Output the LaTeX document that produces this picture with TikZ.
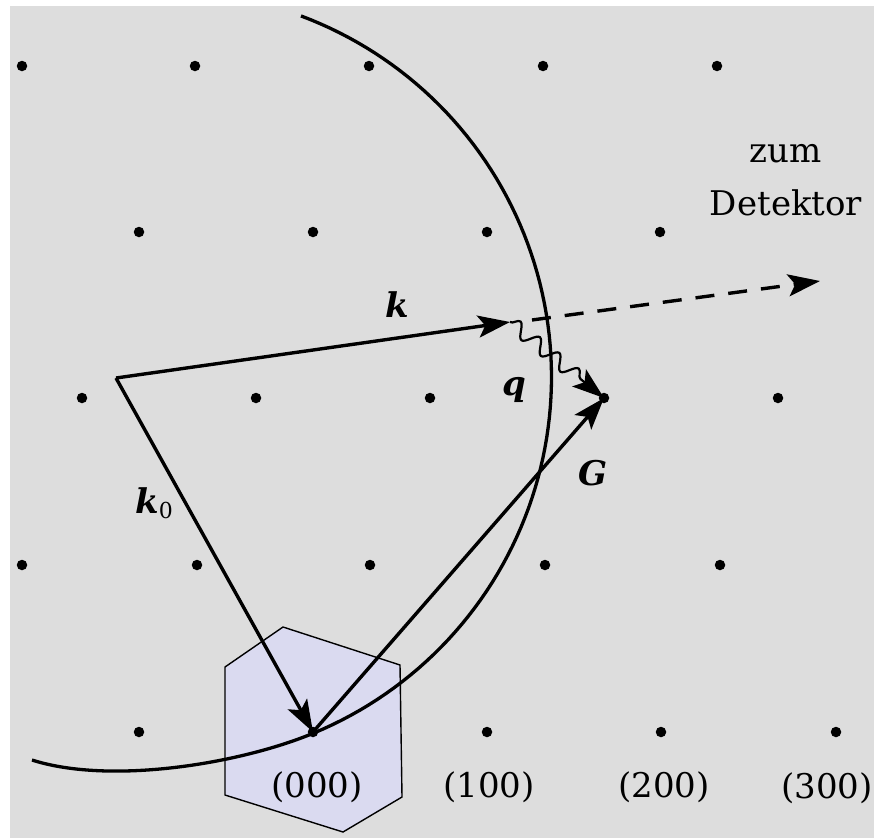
\documentclass[tikz,border=0pt]{standalone}
\usepackage{fontspec}
\setmainfont{DejaVu Serif}
\usetikzlibrary{arrows.meta,decorations.pathmorphing}
\definecolor{bggray}{RGB}{221,221,221}
\definecolor{hexfill}{RGB}{218,218,240}
\begin{document}
\begin{tikzpicture}[x=1pt,y=-1pt,
  tip/.style={-{Stealth[length=32pt,width=22pt,inset=7pt]}},
  vec/.style={line width=3.4pt,tip},
  lattdot/.style={circle,fill=black,inner sep=0pt,minimum size=10.5pt},
  lbl/.style={font=\fontsize{34}{40}\selectfont,inner sep=0pt},
  wave/.style={line width=2.2pt,decorate,decoration={snake,amplitude=7pt,segment length=25pt,post length=30pt}},
]
\useasboundingbox (0,0) rectangle (874,838);
\clip (0,0) rectangle (874,838);
\fill[bggray] (10,6) rectangle (874,838);
% Brillouin zone hexagon
\draw[fill=hexfill,line width=1.4pt] (283,627) -- (400,665) -- (402,797) -- (343,832) -- (225,795) -- (225,667) -- cycle;
% Ewald sphere
\draw[line width=3.3pt] plot[domain=-69.5:67.56,samples=90] ({166+385.5*cos(\x)},{377+385.5*sin(\x)})
  .. controls (239,764) and (110,785) .. (32,760);
% lattice points
\foreach \x/\n in {22/a1,195/a2,369/a3,543/a4,717/a5} \node[lattdot] (\n) at (\x,66) {};
\foreach \x/\n in {139/b1,313/b2,487/b3,660/b4} \node[lattdot] (\n) at (\x,232) {};
\foreach \x/\n in {82/c1,256/c2,430/c3,604/Gp,778/c5} \node[lattdot] (\n) at (\x,398) {};
\foreach \x/\n in {22/d1,197/d2,370/d3,545/d4,720/d5} \node[lattdot] (\n) at (\x,565) {};
\foreach \x/\n in {139/e1,313/O,487/e3,661/e4,836/e5} \node[lattdot] (\n) at (\x,732) {};
% vectors
\coordinate (C) at (116,378);
\coordinate (K) at (510,322);
\coordinate (Ds) at (532,320);
\coordinate (Det) at (820,281);
\draw[vec] (C) -- (K);
\draw[vec] (C) -- (O.center);
\draw[vec] (O.center) -- (Gp.center);
\draw[line width=3.4pt,dash pattern=on 19pt off 14pt,tip] (Ds) -- (Det);
\draw[wave,tip] (K) -- (Gp.center);
% labels
\node[lbl,anchor=base] (lk) at (397,317) {\textbf{\textit{k}}};
\node[lbl,anchor=base west] (lk0) at (135,513) {\textbf{\textit{k}}{\fontsize{22}{24}\selectfont\raisebox{-5pt}{0}}};
\node[lbl,anchor=base] (lq) at (514,395) {\textbf{\textit{q}}};
\node[lbl,anchor=base] (lG) at (593,485) {\textbf{\textit{G}}};
\node[lbl,anchor=base] (lzum) at (786,162) {zum};
\node[lbl,anchor=base] (ldet) at (786,215) {Detektor};
\node[lbl,anchor=base] (l000) at (317,797) {(000)};
\node[lbl,anchor=base] (l100) at (489,797) {(100)};
\node[lbl,anchor=base] (l200) at (664,797) {(200)};
\node[lbl,anchor=base east] (l300) at (873,798) {(300)};
\end{tikzpicture}
\end{document}
